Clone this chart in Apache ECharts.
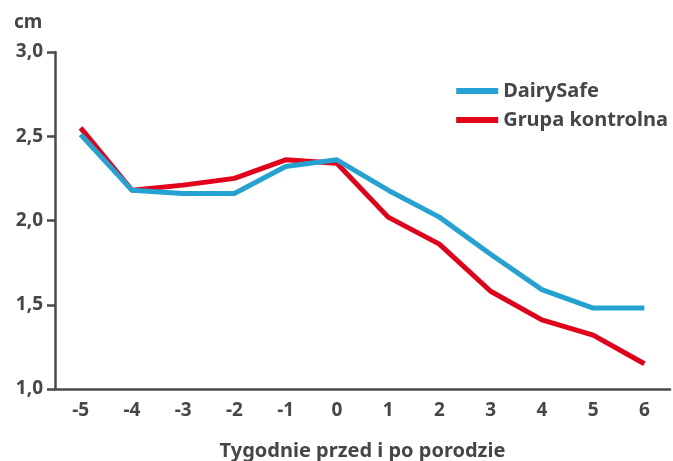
<!DOCTYPE html>
<html><head><meta charset="utf-8">
<script src="https://cdn.jsdelivr.net/npm/echarts@6/dist/echarts.min.js"></script>
<style>html,body{margin:0;padding:0;background:#fff}#c{width:673px;height:461px}</style>
</head><body><div id="c"></div>
<script>
const weeks = ['-5','-4','-3','-2','-1','0','1','2','3','4','5','6'];
const dairySafe = [2.51,2.18,2.16,2.16,2.32,2.36,2.18,2.02,1.80,1.59,1.48,1.48];
const kontrolna = [2.55,2.18,2.21,2.25,2.36,2.34,2.02,1.86,1.58,1.41,1.32,1.15];
const yTicks = [1.0,1.5,2.0,2.5,3.0];
const font = 'Noto Sans';
const txt = {fontFamily:font,fontWeight:'bold',fontSize:19,color:'#464646'};
const big = Object.assign({}, txt, {fontSize:20});
const chart = echarts.init(document.getElementById('c'));
chart.setOption({
  animation:false,
  title:{text:'cm',left:9,top:8,textStyle:txt},
  legend:{orient:'vertical',right:0,top:76,itemWidth:42,itemHeight:6,itemGap:9,icon:'rect',
    textStyle:big,data:['DairySafe','Grupa kontrolna']},
  grid:{left:55,right:3,top:52,bottom:72,outerBoundsMode:'none',containLabel:false},
  xAxis:{type:'category',data:weeks,boundaryGap:true,
    name:'Tygodnie przed i po porodzie',nameLocation:'middle',nameGap:52,
    nameTextStyle:big,
    axisLine:{lineStyle:{color:'#4a4a4a',width:2.5}},
    axisTick:{length:9,lineStyle:{color:'#4a4a4a',width:2.5}},
    axisLabel:Object.assign({margin:12},txt)},
  yAxis:{type:'value',min:1.0,max:3.0,interval:0.5,
    axisLine:{show:true,lineStyle:{color:'#4a4a4a',width:2.5}},
    axisTick:{show:true,length:8,lineStyle:{color:'#4a4a4a',width:2.5}},
    splitLine:{show:false},
    axisLabel:Object.assign({margin:12,
      formatter:v=>yTicks.includes(+v.toFixed(1))?v.toFixed(1).replace('.',','):''},txt)},
  series:[
    {name:'DairySafe',type:'line',data:dairySafe,symbol:'none',z:3,
      lineStyle:{color:'#24a3d3',width:5},itemStyle:{color:'#24a3d3'}},
    {name:'Grupa kontrolna',type:'line',data:kontrolna,symbol:'none',z:2,
      lineStyle:{color:'#e2001a',width:5},itemStyle:{color:'#e2001a'}}
  ]
});
</script></body></html>
